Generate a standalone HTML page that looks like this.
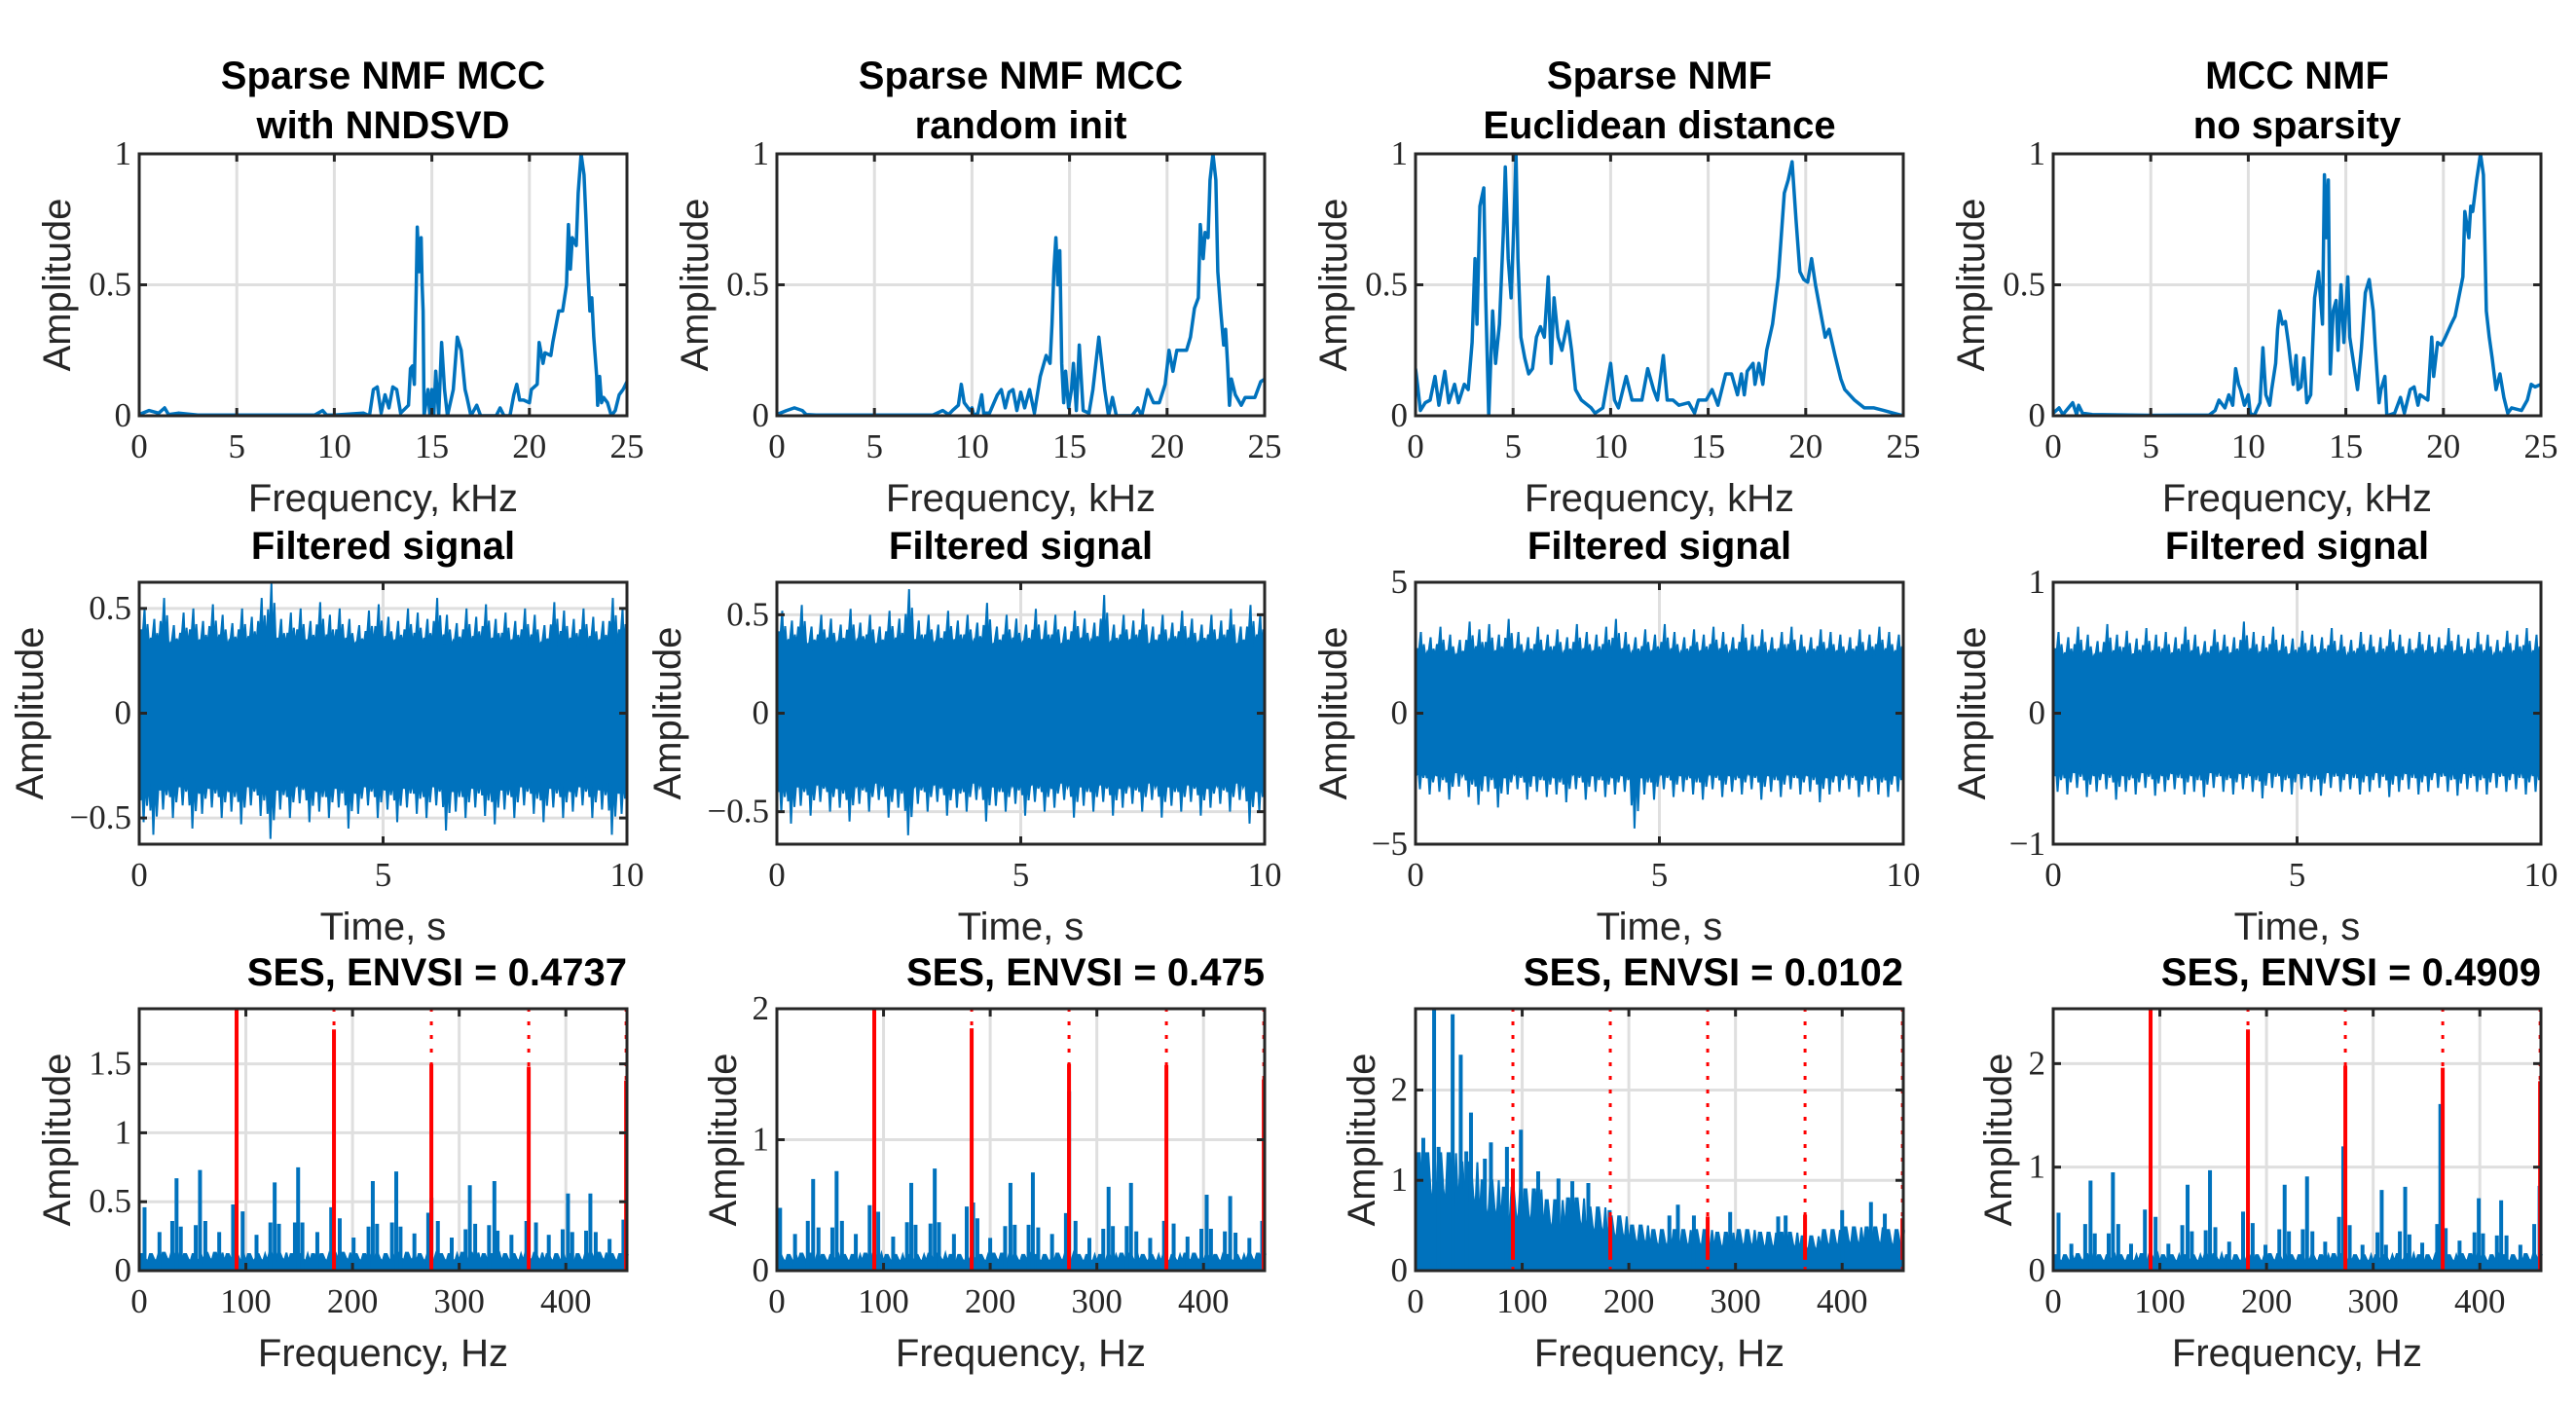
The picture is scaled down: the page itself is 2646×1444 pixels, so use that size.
<!DOCTYPE html>
<html><head><meta charset="utf-8">
<style>
html,body{margin:0;padding:0;background:#fff;}
svg{display:block;}
text{fill:#262626;}
.tk{font-family:"Liberation Serif",serif;font-size:35px;}
.lab{font-family:"Liberation Sans",sans-serif;font-size:40px;}
.ttl{font-family:"Liberation Sans",sans-serif;font-size:40px;font-weight:bold;fill:#000;}
</style></head>
<body>
<svg id="fig" width="2646" height="1444" viewBox="0 0 2646 1444" xmlns="http://www.w3.org/2000/svg"></svg>
<script>
// ---------- Row 1: spectra (kHz, amplitude) ----------
const spec1F=[0,0.5,1,1.3,1.5,2,3,5,7,9,9.4,9.6,10,11.5,11.8,12,12.2,12.4,12.6,12.8,13,13.2,13.4,13.8,13.9,14,14.1,14.2,14.25,14.35,14.45,14.5,14.55,14.6,14.8,14.9,15,15.1,15.2,15.35,15.5,15.65,15.8,16.1,16.3,16.5,16.7,16.8,17,17.3,17.5,18.3,18.5,18.7,19,19.2,19.35,19.5,19.7,20,20.1,20.4,20.5,20.7,20.8,21.1,21.2,21.5,21.7,21.9,22,22.1,22.2,22.4,22.5,22.65,22.8,22.9,23,23.1,23.2,23.3,23.45,23.5,23.6,23.7,23.8,24,24.2,24.4,24.6,24.8,25];
const spec1A=[0.005,0.02,0.01,0.03,0.005,0.01,0.003,0.003,0.003,0.003,0.02,0.003,0.003,0.01,0,0.1,0.11,0.01,0.08,0.03,0.11,0.1,0.01,0.04,0.18,0.19,0.12,0.5,0.72,0.55,0.68,0.5,0.4,0,0.1,0,0.1,0,0.17,0,0.28,0.1,0,0.1,0.3,0.25,0.1,0.07,0,0.04,0,0,0.03,0,0,0.08,0.12,0.06,0.06,0.05,0.1,0.12,0.28,0.2,0.24,0.23,0.28,0.4,0.4,0.5,0.73,0.56,0.68,0.65,0.85,1.0,0.92,0.75,0.55,0.4,0.45,0.3,0.15,0.04,0.15,0.05,0.07,0.05,0,0.02,0.08,0.1,0.13];
const spec2F=[0,0.5,0.9,1.3,1.5,2,5,8,8.5,8.8,9,9.3,9.45,9.6,9.9,10,10.1,10.3,10.5,10.6,10.9,11.3,11.5,11.7,11.9,12.1,12.3,12.5,12.7,12.95,13.2,13.5,13.8,14,14.1,14.2,14.3,14.4,14.5,14.6,14.7,14.8,14.95,15.1,15.2,15.35,15.5,15.7,16,16.2,16.5,16.8,17,17.2,17.4,18.2,18.5,18.7,19,19.3,19.6,19.9,20.1,20.3,20.5,21,21.2,21.4,21.6,21.7,21.85,21.95,22.1,22.2,22.35,22.5,22.6,22.75,22.9,23,23.1,23.2,23.3,23.5,23.8,24,24.5,24.8,25];
const spec2A=[0.005,0.02,0.03,0.02,0.005,0.003,0.003,0.003,0.02,0.005,0.02,0.04,0.12,0.05,0.02,0.03,0,0.01,0.08,0.01,0.01,0.08,0.1,0.03,0.09,0.1,0.02,0.09,0.03,0.1,0.01,0.15,0.23,0.2,0.35,0.56,0.68,0.5,0.63,0.2,0.05,0.17,0.03,0.1,0.2,0.02,0.27,0.02,0.01,0.1,0.3,0.1,0,0.07,0,0,0.03,0,0.1,0.05,0.05,0.12,0.25,0.17,0.25,0.25,0.3,0.41,0.45,0.73,0.6,0.7,0.68,0.9,1.0,0.9,0.55,0.4,0.27,0.33,0.2,0.04,0.14,0.08,0.04,0.07,0.07,0.13,0.14];
const spec3F=[0,0.1,0.25,0.5,0.75,1,1.2,1.5,1.7,2,2.2,2.5,2.7,2.9,3.05,3.15,3.3,3.5,3.6,3.75,3.95,4.1,4.3,4.5,4.6,4.75,4.9,5.05,5.15,5.25,5.4,5.6,5.8,6,6.2,6.4,6.6,6.8,6.95,7.1,7.3,7.5,7.8,8,8.2,8.5,9,9.2,9.6,10,10.2,10.4,10.8,11.1,11.6,11.9,12.2,12.4,12.7,12.9,13.2,13.5,14,14.3,14.5,14.9,15.2,15.5,15.9,16.2,16.5,16.7,16.85,17,17.3,17.4,17.6,17.8,18,18.3,18.6,18.9,19.1,19.3,19.5,19.7,19.9,20.1,20.3,20.5,20.8,21,21.2,21.5,21.8,22,22.5,23,23.5,24,24.5,25];
const spec3A=[0.18,0.12,0.02,0.05,0.06,0.15,0.04,0.17,0.05,0.12,0.05,0.12,0.1,0.28,0.6,0.35,0.8,0.87,0.45,0,0.4,0.2,0.35,0.7,0.95,0.6,0.45,0.75,1.0,0.6,0.3,0.22,0.16,0.18,0.3,0.34,0.3,0.53,0.2,0.45,0.3,0.25,0.36,0.25,0.1,0.06,0.03,0.01,0.03,0.2,0.06,0.03,0.15,0.06,0.06,0.18,0.1,0.06,0.23,0.06,0.06,0.04,0.05,0.01,0.06,0.06,0.1,0.04,0.16,0.16,0.08,0.16,0.08,0.17,0.2,0.12,0.2,0.12,0.25,0.35,0.53,0.85,0.9,0.97,0.75,0.55,0.52,0.51,0.6,0.5,0.38,0.3,0.33,0.23,0.14,0.1,0.06,0.03,0.03,0.02,0.01,0];
const spec4F=[0,0.3,0.5,1,1.2,1.3,1.5,2,5,8,8.3,8.5,8.8,9,9.2,9.35,9.5,9.6,9.8,10,10.1,10.3,10.6,10.75,10.9,11.1,11.2,11.4,11.5,11.6,11.75,11.9,12.05,12.3,12.45,12.55,12.7,12.85,13,13.2,13.4,13.6,13.8,13.9,14,14.1,14.2,14.35,14.5,14.6,14.75,14.9,15.1,15.2,15.4,15.6,15.8,16,16.2,16.4,16.5,16.7,16.8,17,17.1,17.5,17.8,18,18.3,18.5,18.7,18.8,19,19.2,19.4,19.5,19.7,19.9,20.1,20.4,20.6,21,21.1,21.3,21.4,21.5,21.7,21.9,22.05,22.2,22.35,22.5,22.7,22.9,23.1,23.3,23.5,24,24.3,24.5,24.7,25];
const spec4A=[0.01,0.03,0.005,0.05,0.005,0.04,0.01,0.005,0.002,0.003,0.02,0.06,0.03,0.08,0.04,0.18,0.12,0.1,0.04,0.08,0.01,0,0.05,0.26,0.08,0.04,0.1,0.2,0.33,0.4,0.35,0.36,0.28,0.12,0.23,0.1,0.11,0.22,0.05,0.08,0.45,0.55,0.35,0.92,0.68,0.9,0.16,0.4,0.44,0.25,0.5,0.28,0.53,0.3,0.2,0.1,0.26,0.47,0.52,0.4,0.27,0.05,0.1,0.15,0,0.01,0.07,0.01,0.1,0.11,0.04,0.08,0.07,0.06,0.3,0.15,0.28,0.27,0.3,0.35,0.38,0.53,0.78,0.68,0.8,0.78,0.9,1.0,0.92,0.4,0.3,0.22,0.1,0.16,0.07,0.01,0.03,0.02,0.06,0.12,0.11,0.12];

// ---------- Row 2: filtered signal envelopes (50 time bins over 0..10 s) ----------
const sigCore=[0.33,0.35,2.2,0.42];
const sig1Up=[0.5,0.45,0.55,0.42,0.48,0.5,0.44,0.52,0.47,0.43,0.5,0.46,0.55,0.62,0.45,0.48,0.5,0.44,0.53,0.47,0.5,0.45,0.42,0.49,0.52,0.46,0.44,0.5,0.48,0.45,0.55,0.47,0.43,0.5,0.46,0.52,0.45,0.48,0.44,0.5,0.47,0.42,0.53,0.49,0.45,0.5,0.46,0.44,0.55,0.5];
const sig1Lo=[0.52,0.58,0.46,0.5,0.44,0.55,0.48,0.45,0.5,0.47,0.53,0.44,0.49,0.6,0.46,0.5,0.43,0.52,0.47,0.5,0.45,0.55,0.48,0.44,0.5,0.46,0.52,0.45,0.48,0.5,0.44,0.56,0.47,0.5,0.45,0.49,0.53,0.46,0.5,0.44,0.48,0.52,0.45,0.5,0.47,0.44,0.5,0.46,0.58,0.48];
const sig2Up=[0.52,0.47,0.55,0.44,0.5,0.48,0.45,0.53,0.46,0.5,0.44,0.52,0.48,0.63,0.47,0.5,0.45,0.52,0.47,0.5,0.46,0.56,0.44,0.5,0.48,0.45,0.53,0.47,0.5,0.44,0.52,0.48,0.46,0.6,0.45,0.5,0.47,0.53,0.44,0.5,0.46,0.52,0.48,0.45,0.5,0.47,0.53,0.44,0.55,0.5];
const sig2Lo=[0.5,0.56,0.47,0.52,0.45,0.5,0.48,0.55,0.46,0.5,0.44,0.53,0.48,0.62,0.46,0.5,0.45,0.52,0.48,0.5,0.44,0.55,0.47,0.5,0.46,0.52,0.45,0.5,0.48,0.44,0.53,0.47,0.5,0.45,0.52,0.48,0.46,0.5,0.44,0.53,0.47,0.5,0.45,0.52,0.48,0.46,0.5,0.44,0.56,0.5];
const sig3Up=[3.1,2.9,3.3,3.0,2.8,3.5,3.2,3.4,3.0,3.6,3.1,2.9,3.3,3.0,3.2,2.9,3.4,3.1,3.0,3.3,3.6,3.1,2.9,3.2,3.0,3.4,3.1,2.9,3.2,3.0,3.3,3.1,2.9,3.4,3.0,3.2,2.9,3.1,3.3,3.0,2.9,3.2,3.1,3.0,2.9,3.2,3.0,3.3,3.1,3.0];
const sig3Lo=[2.9,3.1,3.0,3.3,2.8,3.2,3.5,3.0,3.6,3.1,2.9,3.3,3.0,3.2,3.1,3.4,2.9,3.3,3.0,3.2,3.1,3.0,4.4,3.1,3.3,2.9,3.2,3.0,3.1,3.3,2.9,3.2,3.0,3.1,2.9,3.3,3.0,3.2,2.9,3.1,3.0,3.4,3.1,3.0,2.9,3.2,3.0,3.1,3.2,3.0];
const sig4Up=[0.62,0.58,0.66,0.6,0.55,0.68,0.6,0.63,0.57,0.65,0.6,0.62,0.58,0.66,0.6,0.55,0.64,0.6,0.58,0.7,0.62,0.59,0.66,0.6,0.57,0.63,0.6,0.58,0.65,0.6,0.56,0.62,0.6,0.58,0.64,0.6,0.57,0.62,0.6,0.58,0.65,0.6,0.57,0.62,0.6,0.56,0.63,0.6,0.65,0.6];
const sig4Lo=[0.6,0.62,0.57,0.64,0.6,0.58,0.66,0.6,0.62,0.57,0.63,0.6,0.58,0.62,0.6,0.64,0.57,0.6,0.62,0.58,0.6,0.65,0.57,0.6,0.62,0.58,0.6,0.63,0.57,0.6,0.58,0.62,0.6,0.57,0.64,0.6,0.58,0.62,0.6,0.57,0.6,0.63,0.58,0.6,0.62,0.57,0.6,0.58,0.62,0.6];

// ---------- Row 3: squared envelope spectra ----------
const fault=[91.3,91.3,91.3,91.3];
const harmVals1=[2.5,1.75,1.5,1.48,1.38];
const harmVals2=[2.5,1.85,1.58,1.57,1.46];
const harmVals3=[1.13,0.6,0.6,0.62,0.58];
const harmVals4=[3.0,2.33,1.98,1.96,1.83];
const ses1F=[5,19,31,35,39,53,57,62,75,88,97,110,123,127,131,146,149,153,167,180,188,201,215,219,223,237,241,245,258,271,274,280,293,306,310,315,328,333,336,349,363,372,384,397,402,406,419,423,428,441,454];
const ses1A=[0.46,0.28,0.36,0.67,0.32,0.33,0.73,0.36,0.28,0.48,0.43,0.26,0.35,0.64,0.34,0.35,0.75,0.35,0.28,0.46,0.38,0.24,0.32,0.65,0.34,0.35,0.72,0.32,0.27,0.42,0.53,0.36,0.24,0.3,0.62,0.34,0.33,0.65,0.29,0.26,0.36,0.35,0.26,0.3,0.56,0.28,0.29,0.56,0.28,0.23,0.37];
const ses2F=[3,17,29,34,39,52,56,61,74,87,95,109,122,126,130,144,148,152,166,178,184,188,200,214,219,223,236,240,245,258,271,274,280,293,306,311,315,328,332,337,350,363,372,385,398,403,407,420,425,430,443,455];
const ses2A=[0.48,0.28,0.38,0.7,0.33,0.33,0.76,0.38,0.28,0.5,0.45,0.26,0.37,0.67,0.35,0.36,0.78,0.37,0.28,0.49,0.52,0.4,0.25,0.34,0.67,0.35,0.35,0.75,0.33,0.28,0.44,1.37,0.38,0.25,0.32,0.64,0.34,0.34,0.67,0.3,0.25,0.38,0.36,0.26,0.32,0.58,0.32,0.3,0.57,0.29,0.25,0.38];
const ses3F=[1.8,7.3,17.4,21.6,34.8,42.4,47.6,52,65,70.7,85.7,98.8,115,134,147,162,182,238,246,261,295,340,347,400,427,440];
const ses3A=[1.2,1.47,2.9,1.37,2.84,2.39,1.32,1.75,1.24,1.42,1.37,1.56,1.1,1.02,0.99,0.97,0.67,0.61,0.73,0.61,0.65,0.6,0.61,0.67,0.76,0.63];
const ses4F=[5,17,30,35,39,52,56,61,73,86,96,108,121,126,130,143,147,152,165,178,187,199,212,217,221,234,238,243,255,268,272,278,290,304,308,312,325,330,334,346,360,363,368,381,395,399,403,416,420,425,438,451,456];
const ses4A=[0.56,0.26,0.45,0.87,0.36,0.36,0.95,0.45,0.26,0.59,0.52,0.26,0.44,0.83,0.38,0.39,0.97,0.42,0.28,0.57,0.46,0.25,0.4,0.83,0.38,0.4,0.91,0.38,0.28,0.52,1.2,0.44,0.25,0.37,0.78,0.25,0.38,0.81,0.35,0.27,0.45,1.61,0.41,0.29,0.37,0.7,0.36,0.34,0.68,0.34,0.25,0.45,0.82];
// noise floor per 20 Hz bin (23 bins)
const floor1=[0.12,0.13,0.12,0.13,0.12,0.12,0.13,0.12,0.12,0.13,0.12,0.12,0.13,0.12,0.12,0.13,0.12,0.12,0.13,0.12,0.12,0.13,0.12];
const floor2=[0.12,0.13,0.12,0.12,0.13,0.12,0.12,0.13,0.12,0.12,0.13,0.12,0.12,0.13,0.12,0.12,0.13,0.12,0.12,0.13,0.12,0.12,0.13];
const floor3=[1.3,1.3,1.2,1.0,0.92,0.9,0.78,0.8,0.7,0.6,0.5,0.45,0.45,0.45,0.42,0.45,0.42,0.42,0.38,0.45,0.48,0.48,0.45];
const floor4=[0.15,0.16,0.15,0.15,0.16,0.15,0.15,0.16,0.15,0.15,0.16,0.15,0.15,0.16,0.15,0.15,0.16,0.15,0.15,0.16,0.15,0.15,0.16];

const NS="http://www.w3.org/2000/svg";
const svg=document.getElementById('fig');
function mk(tag,attrs,parent){const e=document.createElementNS(NS,tag);for(const k in attrs)e.setAttribute(k,attrs[k]);(parent||svg).appendChild(e);return e;}
const BLUE="#0072bd",RED="#ff0000",AX="#262626",GRID="#dfdfdf";
const colX=[143,798,1454,2109], W=501;
const rowY=[158,598,1036], H=269;
let clipId=0;

function fmt(v){return (v<0?"\u2212":"")+String(Math.abs(v));}

function axes(c,r,xmin,xmax,ymin,ymax,xt,yt,xlabel,ylabOff,titleLines,titleRight){
  const x0=colX[c], y0=rowY[r];
  const g=mk('g',{});
  
  
  const sx=v=>x0+(v-xmin)/(xmax-xmin)*W;
  const sy=v=>y0+H-(v-ymin)/(ymax-ymin)*H;
  xt.forEach(v=>{const l=mk('line',{x1:sx(v),x2:sx(v),y1:y0,y2:y0+H,stroke:GRID,'stroke-width':3},g);});
  yt.forEach(v=>{const l=mk('line',{x1:x0,x2:x0+W,y1:sy(v),y2:sy(v),stroke:GRID,'stroke-width':3},g);});
  const id='clip'+(clipId++);
  const cp=mk('clipPath',{id:id},g);mk('rect',{x:x0,y:y0,width:W+2,height:H},cp);
  const plot=mk('g',{'clip-path':'url(#'+id+')'},g);
  
  
  const fr=mk('rect',{x:x0,y:y0,width:W,height:H,fill:'none',stroke:AX,'stroke-width':3},g);
  
  xt.forEach(v=>{
    mk('line',{x1:sx(v),x2:sx(v),y1:y0+H,y2:y0+H-8,stroke:AX,'stroke-width':3},g);
    mk('line',{x1:sx(v),x2:sx(v),y1:y0,y2:y0+8,stroke:AX,'stroke-width':3},g);
    const t=mk('text',{x:sx(v),y:y0+H+43,'text-anchor':'middle',class:'tk'},g);t.textContent=fmt(v);
    
  });
  yt.forEach(v=>{
    mk('line',{x1:x0,x2:x0+8,y1:sy(v),y2:sy(v),stroke:AX,'stroke-width':3},g);
    mk('line',{x1:x0+W,x2:x0+W-8,y1:sy(v),y2:sy(v),stroke:AX,'stroke-width':3},g);
    const t=mk('text',{x:x0-8,y:sy(v)+11,'text-anchor':'end',class:'tk'},g);t.textContent=fmt(v);
    
  });
  const xl=mk('text',{x:x0+W/2,y:y0+H+98,'text-anchor':'middle',class:'lab'},g);xl.textContent=xlabel;
  
  const yx=x0-ylabOff, yy=y0+H/2;
  const yl=mk('text',{x:yx,y:yy,'text-anchor':'middle',class:'lab',transform:'rotate(-90 '+yx+' '+yy+') translate(0 14)'},g);yl.textContent='Amplitude';
  
  titleLines.forEach((s,i)=>{
    const n=titleLines.length;
    const ty=y0-(n>1?16:24)-(n-1-i)*51;
    const t=mk('text',titleRight?{x:x0+W,y:ty,'text-anchor':'end',class:'ttl'}:{x:x0+W/2,y:ty,'text-anchor':'middle',class:'ttl'},g);
    t.textContent=s;
    
  });
  return {sx,sy,plot};
}

// Row 1
const specF=[spec1F,spec2F,spec3F,spec4F], specA=[spec1A,spec2A,spec3A,spec4A];
const titles1=[["Sparse NMF MCC","with NNDSVD"],["Sparse NMF MCC","random init"],["Sparse NMF","Euclidean distance"],["MCC NMF","no sparsity"]];
for(let c=0;c<4;c++){
  const a=axes(c,0,0,25,0,1,[0,5,10,15,20,25],[0,0.5,1],"Frequency, kHz",85,titles1[c],false);
  const d=specF[c].map((f,i)=>(i?'L':'M')+a.sx(f).toFixed(1)+' '+a.sy(specA[c][i]).toFixed(1)).join(' ');
  const p=mk('path',{d:d,fill:'none',stroke:BLUE,'stroke-width':3.5,'stroke-linejoin':'round'},a.plot);
  
  
}

// Row 2
const sigUp=[sig1Up,sig2Up,sig3Up,sig4Up], sigLo=[sig1Lo,sig2Lo,sig3Lo,sig4Lo];
const ylim2=[0.625,0.665,5,1];
const yt2=[[-0.5,0,0.5],[-0.5,0,0.5],[-5,0,5],[-1,0,1]];
const yoff2=[113,113,85,84];
for(let c=0;c<4;c++){
  const a=axes(c,1,0,10,-ylim2[c],ylim2[c],[0,5,10],yt2[c],"Time, s",yoff2[c],["Filtered signal"],false);
  const up=sigUp[c], lo=sigLo[c], n=up.length, core=sigCore[c];
  let pts=[];
  for(let i=0;i<n;i++){
    const t0=i*10/n, dt=10/n;
    pts.push([t0,core*0.95],[t0+dt*0.2,up[i]*0.8],[t0+dt*0.3,core],[t0+dt*0.55,up[i]],[t0+dt*0.7,core*0.9],[t0+dt*0.85,up[i]*0.85],[t0+dt,core]);
  }
  for(let i=n-1;i>=0;i--){
    const t0=i*10/n, dt=10/n;
    pts.push([t0+dt,-core],[t0+dt*0.8,-lo[i]*0.85],[t0+dt*0.65,-core*0.92],[t0+dt*0.45,-lo[i]],[t0+dt*0.3,-core],[t0+dt*0.15,-lo[i]*0.8],[t0,-core*0.95]);
  }
  const d=pts.map((p,i)=>(i?'L':'M')+a.sx(p[0]).toFixed(1)+' '+a.sy(p[1]).toFixed(1)).join(' ')+'Z';
  const p=mk('path',{d:d,fill:BLUE,stroke:BLUE,'stroke-width':2,'stroke-linejoin':'miter'},a.plot);
  
  
}

// Row 3
const sesF=[ses1F,ses2F,ses3F,ses4F], sesA=[ses1A,ses2A,ses3A,ses4A];
const floors=[floor1,floor2,floor3,floor4];
const harm=[harmVals1,harmVals2,harmVals3,harmVals4];
const ymax3=[1.9,2.0,2.9,2.53];
const yt3=[[0,0.5,1,1.5],[0,1,2],[0,1,2],[0,1,2]];
const titles3=["SES, ENVSI = 0.4737","SES, ENVSI = 0.475","SES, ENVSI = 0.0102","SES, ENVSI = 0.4909"];
const yoff3=[85,56,56,57];
for(let c=0;c<4;c++){
  const xmax=fault[c]*5+0.8;
  const a=axes(c,2,0,xmax,0,ymax3[c],[0,100,200,300,400],yt3[c],"Frequency, Hz",yoff3[c],[titles3[c]],true);
  const fl=floors[c], bw=20;
  let pts=[[0,0]];
  fl.forEach((v,i)=>{
    const f0=i*bw;
    for(let k=0;k<5;k++){pts.push([f0+k*4,v*(k%2?1:0.55)]);pts.push([f0+k*4+2,v*(k%2?0.7:1)]);}
  });
  pts.push([xmax,fl[fl.length-1]*0.7],[xmax,0]);
  const d=pts.map((p,i)=>(i?'L':'M')+a.sx(p[0]).toFixed(1)+' '+a.sy(p[1]).toFixed(1)).join(' ')+'Z';
  const fp=mk('path',{d:d,fill:BLUE,stroke:BLUE,'stroke-width':2},a.plot);
  
  
  sesF[c].forEach((f,i)=>{
    const l=mk('line',{x1:a.sx(f),x2:a.sx(f),y1:a.sy(0),y2:a.sy(sesA[c][i]),stroke:BLUE,'stroke-width':4},a.plot);
    
    
  });
  harm[c].forEach((v,k)=>{
    const f=fault[c]*(k+1);
    const dl=mk('line',{x1:a.sx(f),x2:a.sx(f),y1:a.sy(0),y2:a.sy(ymax3[c]),stroke:RED,'stroke-width':3,'stroke-dasharray':'4 10'},a.plot);
    
    
    const sl=mk('line',{x1:a.sx(f),x2:a.sx(f),y1:a.sy(c===2?0.12:0),y2:a.sy(v),stroke:RED,'stroke-width':4},a.plot);
    
    
  });
}
</script>
</body></html>
